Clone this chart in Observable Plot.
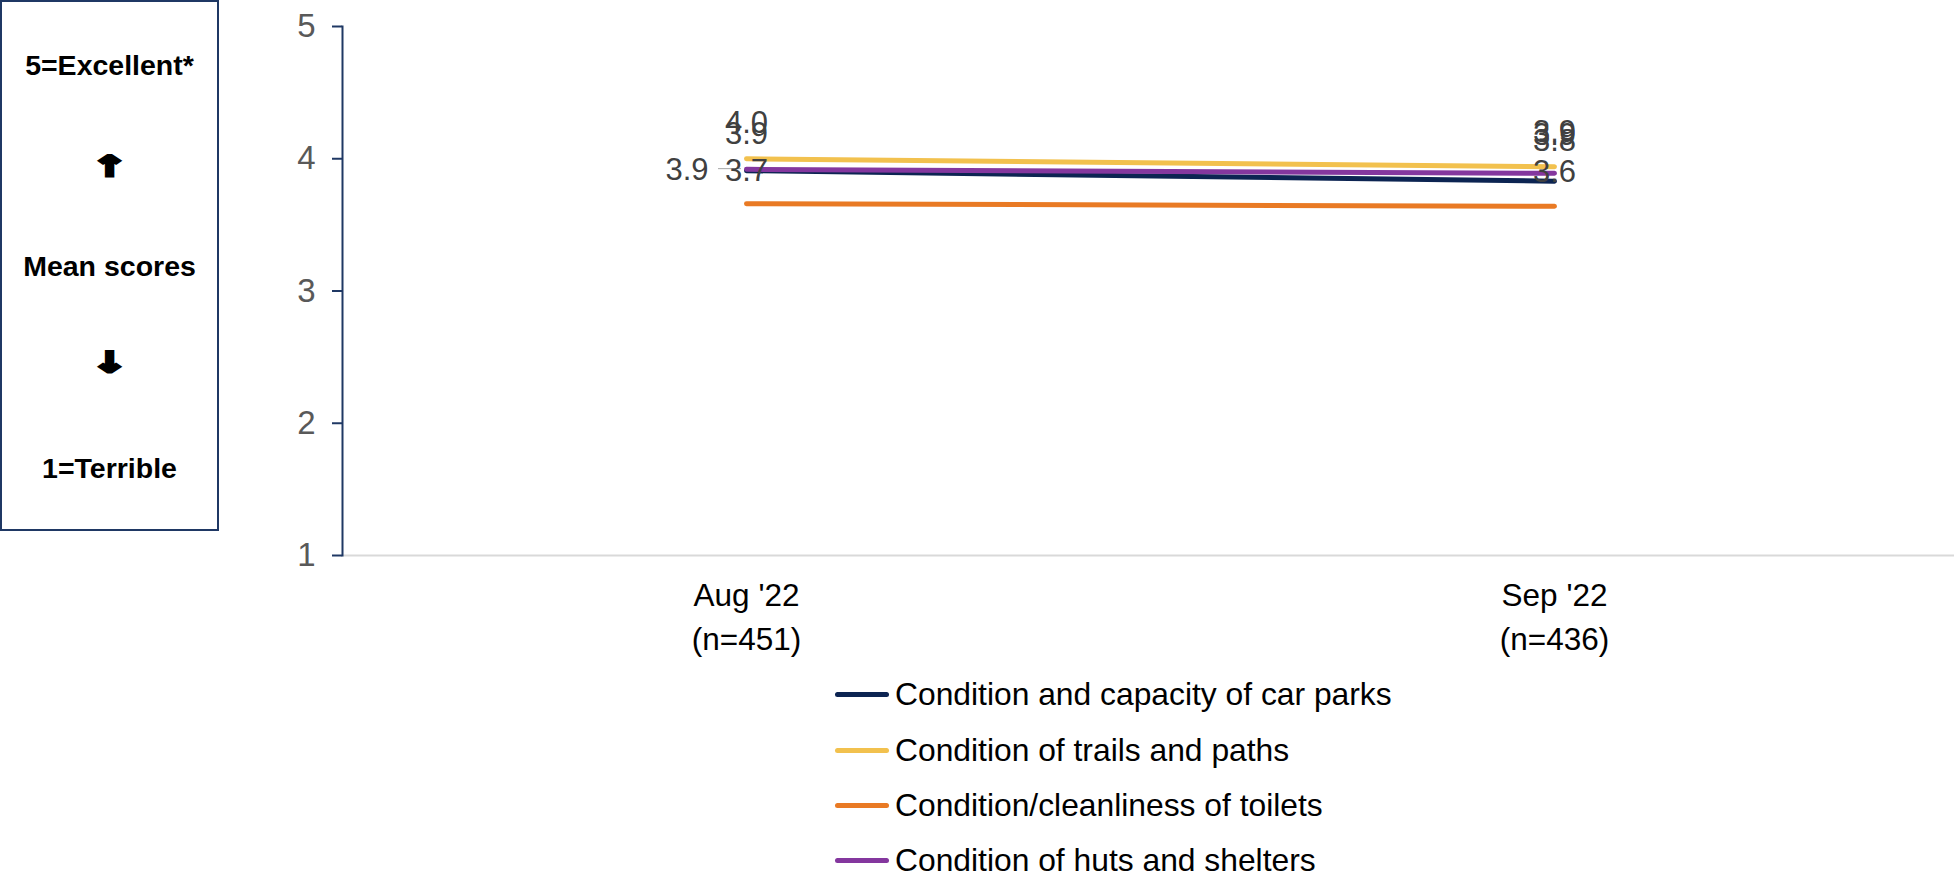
<!DOCTYPE html>
<html>
<head>
<meta charset="utf-8">
<script src="https://cdn.jsdelivr.net/npm/d3@7"></script>
<script src="https://cdn.jsdelivr.net/npm/@observablehq/plot@0.6"></script>
<style>
  html, body { margin: 0; padding: 0; background: #fff; }
  body { width: 1954px; height: 875px; position: relative; overflow: hidden; font-family: "Liberation Sans", Arial, sans-serif; }
  #chart { position: absolute; left: 0; top: 0; }
  #box { position: absolute; left: 0; top: 0; width: 215px; height: 527px; border: 2px solid #1f3864; background: #fff; z-index: 2; }
  #box div { position: absolute; left: 0; width: 215px; text-align: center; font-weight: bold; font-size: 28.5px; color: #000; line-height: 1; transform: translateY(-50%); }
  #box .arrow { font-family: "DejaVu Sans", sans-serif; font-size: 28px; -webkit-text-stroke: 3px #000; transform: translateY(-50%) scaleX(1.5); }
  #legend { position: absolute; left: 835px; top: 0; }
  .lrow { position: absolute; left: 0; display: flex; align-items: center; white-space: nowrap; transform: translateY(-50%); }
  .lsw { width: 54px; height: 5px; border-radius: 3px; margin-right: 6px; }
  .ltx { font-size: 31.8px; color: #000; line-height: 1; }
</style>
</head>
<body>
<div id="box">
  <div style="top:63px">5=Excellent*</div>
  <div class="arrow" style="top:165px">↑</div>
  <div style="top:264px">Mean scores</div>
  <div class="arrow" style="top:361px">↓</div>
  <div style="top:466px">1=Terrible</div>
</div>
<div id="chart"></div>
<div id="legend"></div>
<script>
// ---- data ----
const months = ["Aug '22\n(n=451)", "Sep '22\n(n=436)"];
const seriesNames = [
  "Condition and capacity of car parks",
  "Condition of trails and paths",
  "Condition/cleanliness of toilets",
  "Condition of huts and shelters"
];
const carParks = [3.91, 3.83];
const trails   = [4.00, 3.94];
const toilets  = [3.66, 3.64];
const huts     = [3.92, 3.89];
const yTicks = [1, 2, 3, 4, 5];

const colors = ["#0c2452", "#f2c14e", "#e97a24", "#84379e"];
const navyAxis = "#1f3864";

const seriesValues = [carParks, trails, toilets, huts];
const rows = [];
seriesNames.forEach((s, i) => months.forEach((m, j) => rows.push({series: s, month: m, value: seriesValues[i][j]})));

// label placement (layout config, per series & month)
const labelLayout = [
  {s: 1, m: 0, dx: 0, dy: -26, anchor: "middle"},
  {s: 3, m: 0, dx: 0, dy: -25, anchor: "middle"},
  {s: 0, m: 0, dx: -38, dy: 9, anchor: "end"},
  {s: 2, m: 0, dx: 0, dy: -23, anchor: "middle"},
  {s: 1, m: 1, dx: 0, dy: -25, anchor: "middle"},
  {s: 3, m: 1, dx: 0, dy: -28, anchor: "middle"},
  {s: 0, m: 1, dx: 0, dy: -30, anchor: "middle"},
  {s: 2, m: 1, dx: 0, dy: -24, anchor: "middle"}
];

const labelMarks = labelLayout.map(L =>
  Plot.text(rows.filter(r => r.series === seriesNames[L.s] && r.month === months[L.m]), {
    x: "month", y: "value", text: d => d.value.toFixed(1),
    dx: L.dx, dy: L.dy, textAnchor: L.anchor, lineAnchor: "bottom",
    fill: "#404040", fontSize: 31
  })
);

const leader = [{month: months[0], value: carParks[0]}];

const plot = Plot.plot({
  width: 1954,
  height: 660,
  marginLeft: 342,
  marginRight: 0,
  marginTop: 26,
  marginBottom: 105,
  style: {fontFamily: "'Liberation Sans', Arial, sans-serif", fontSize: "31px", background: "transparent", overflow: "visible"},
  x: {type: "point", domain: months, range: [342, 1958], label: null},
  y: {domain: [1, 5], label: null},
  color: {domain: seriesNames, range: colors},
  marks: [
    Plot.ruleY([1], {stroke: "#d9d9d9", strokeWidth: 2}),
    Plot.frame({anchor: "left", stroke: navyAxis, strokeWidth: 2}),
    Plot.axisY({ticks: yTicks, tickSize: 10, tickPadding: 17, stroke: navyAxis, strokeWidth: 2, fill: "#595959", fontSize: 33, tickFormat: d => String(d)}),
    Plot.axisX({anchor: "bottom", tickSize: 0, tickPadding: 19, fill: "#000", fontSize: 31.5, lineHeight: 1.4}),
    Plot.line(rows, {x: "month", y: "value", z: "series", stroke: "series", strokeWidth: 5, strokeLinecap: "round"}),
    Plot.ruleY(leader, {x1: "month", x2: "month", y: "value", insetLeft: -28, insetRight: 5, dy: -2, stroke: "#a6a6a6", strokeWidth: 1}),
    ...labelMarks
  ]
});
document.getElementById("chart").appendChild(plot);

// legend
const legend = document.getElementById("legend");
const rowY = [695, 751, 806, 861];
seriesNames.forEach((s, i) => {
  const r = document.createElement("div");
  r.className = "lrow";
  r.style.top = rowY[i] + "px";
  r.innerHTML = `<div class="lsw" style="background:${colors[i]}"></div><div class="ltx"></div>`;
  r.querySelector(".ltx").textContent = s;
  legend.appendChild(r);
});
</script>
</body>
</html>
